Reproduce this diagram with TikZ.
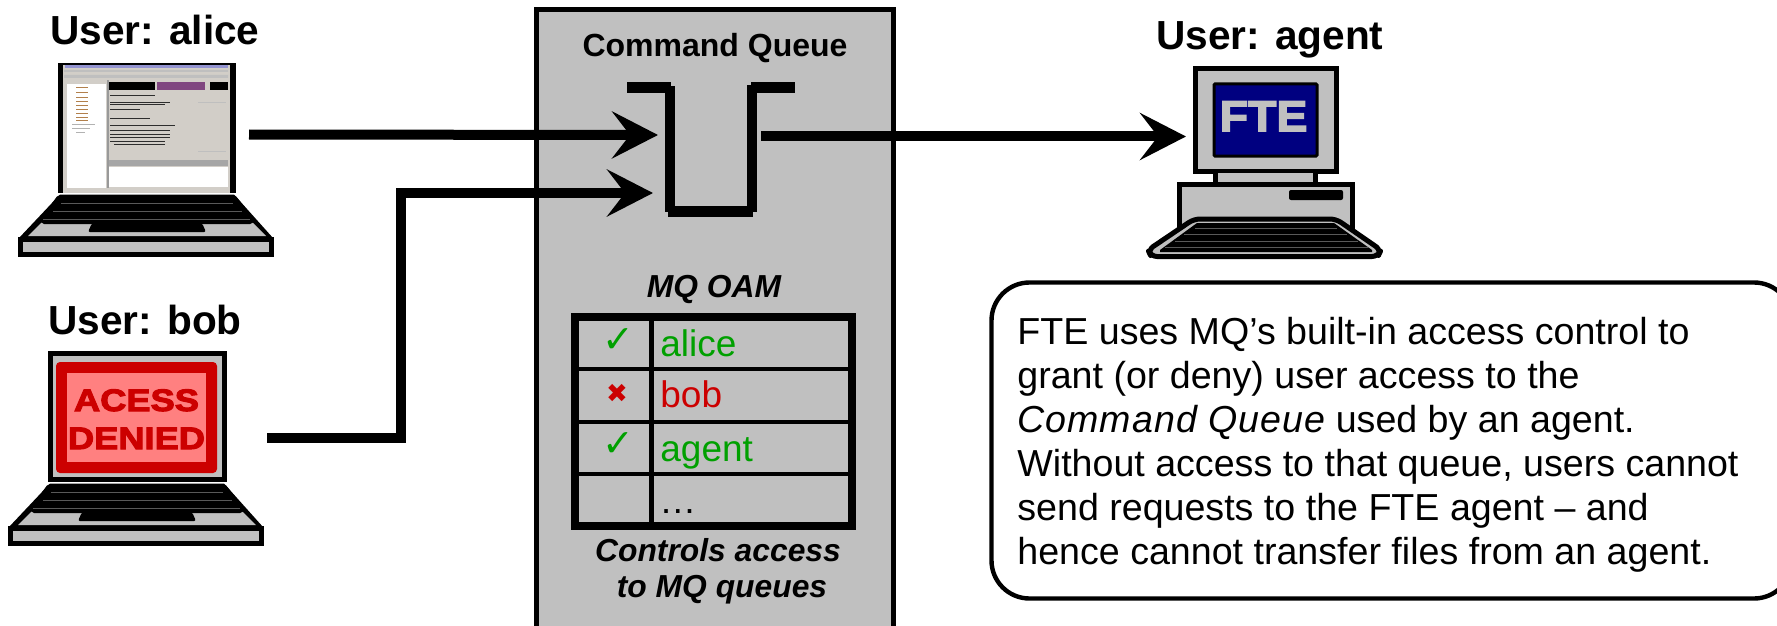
\documentclass[tikz,border=0pt]{standalone}
\usepackage{fontspec}
\setmainfont{Liberation Sans}
\newfontfamily\symfont{DejaVu Sans}
\newfontfamily\heavyfont[BoldFeatures={FakeBold=3.5,FakeStretch=1.17}]{Liberation Sans}
\newfontfamily\ftefont[BoldFeatures={FakeBold=3.5,FakeStretch=1.08}]{Liberation Sans}
\usetikzlibrary{arrows.meta}
\definecolor{boxgray}{HTML}{C0C0C0}
\definecolor{okgreen}{HTML}{00A000}
\definecolor{noared}{HTML}{CC0000}
\definecolor{pinkscr}{HTML}{FF8080}
\definecolor{navyscr}{HTML}{000080}
\definecolor{winbg}{HTML}{D2CEC8}
\newcommand{\fsz}[1]{\fontsize{#1}{#1}\selectfont}
\tikzset{
  x=0.5pt,y=-0.5pt,
  title/.style={font=\fsz{20.3}\bfseries,anchor=base west,inner sep=0},
  sublabel/.style={font=\fsz{16}\bfseries,anchor=base,inner sep=0},
  sublabelit/.style={font=\fsz{15.9}\bfseries\itshape,anchor=base,inner sep=0},
  entry/.style={font=\fsz{18.5},anchor=base west,inner sep=0},
  flow/.style={line width=5pt,line join=miter,
    -{Stealth[length=23pt,width=23.5pt,inset=9pt]}},
  hw/.style={line width=2.5pt,draw=black,fill=boxgray,line join=miter},
}
\newcommand{\laptopbase}{%
  \fill[black] (60,194.5) -- (234,194.5) -- (273,238) -- (19,238) -- cycle;
  \fill[boxgray] (28,236) -- (42,222) -- (252,222) -- (266,236) -- cycle;
  \fill[black,rounded corners=1pt] (58,195) -- (235,195) -- (255,220) -- (252,224) -- (42,224) -- (40,220) -- cycle;
  \fill[black,rounded corners=1pt] (92,223) -- (202,223) -- (206,232) -- (88,232) -- cycle;
  \draw[gray!70!black,line width=.3pt] (61,203) -- (233,203) (53,211) -- (242,211) (43,219) -- (250,219);
  \draw[hw] (20.5,239) rectangle (271.5,254.5);
}
\begin{document}
\begin{tikzpicture}
\useasboundingbox (0,0) rectangle (1777,626);
% central box
\draw[line width=2.5pt,fill=boxgray] (536.7,630) -- (536.7,9.5) -- (893,9.5) -- (893,630);
\node[sublabel] (cqlabel) at (715,57) {Command Queue};
% queue
\fill (627,82) rectangle (671,93);
\fill (665,86) rectangle (675,212);
\fill (668,206) rectangle (753,217);
\fill (747,85) rectangle (757,212);
\fill (751,82) rectangle (795,93);
\coordinate (qleft) at (658,135);
\coordinate (qleftb) at (653,193);
\coordinate (qright) at (761,136.5);
% titles
\node[title] (alicet) at (50,45) {User: alice};
\node[title] (bobt) at (48,334) {User: bob};
\node[title] (agentt) at (1156,50) {User: agent};
% laptop alice
\node[inner sep=0,minimum width=0] (alicelap) at (147,128) {};
\fill[black] (57.5,63) rectangle (236,192.5);
\fill[winbg] (63,65) rectangle (230,192.5);
\fill[white] (67,84) rectangle (106,188);
\fill[white] (109,167) rectangle (228,187);
\fill[gray!60!blue!60] (65,65.5) rectangle (228,68.5);
\fill[gray!50] (64,70) rectangle (228,72) (64,75) rectangle (228,78);
\fill[black] (109,82) rectangle (155,90);
\fill[violet!45!gray] (157,82) rectangle (205,90);
\fill[black] (210,82) rectangle (228,90);
\fill[gray!80] (107,80) rectangle (108.5,188);
\fill[gray!70] (109,160) rectangle (228,166);
\foreach \yy/\xa/\xb in {95/110/155,102/110/170,104/110/165,109/110/140,118/110/150,125/110/175,130/110/170,134/110/170,137/110/170,141/110/165,144/114/165}{
  \draw[gray!35!black,line width=.3pt] (\xa,\yy) -- (\xb,\yy);
}
\draw[gray!50,line width=.3pt] (198,102) -- (226,102) (198,151) -- (226,151);
\foreach \yy in {87,92,97,101,105,109,113,117,120}{
  \draw[orange!40!gray,line width=.4pt] (76,\yy) -- (88,\yy);
}
\draw[gray!60,line width=.4pt] (72,124) -- (95,124) (72,128) -- (90,128) (76,132) -- (85,132);
\begin{scope}
\laptopbase
\end{scope}
% laptop bob
\node[inner sep=0] (boblap) at (137,417) {};
\draw[line width=2.5pt,fill=boxgray] (50,353.5) rectangle (224.5,479);
\fill[noared,rounded corners=2pt] (56,362) rectangle (217,473);
\fill[pinkscr] (67,373) rectangle (206,462);
\node[inner sep=0,text=noared,font=\fsz{15.5}\heavyfont\bfseries,anchor=base] (acess) at (136.5,411) {ACESS};
\node[inner sep=0,text=noared,font=\fsz{15.5}\heavyfont\bfseries,anchor=base] (denied) at (136.5,449) {DENIED};
\begin{scope}[shift={(-10,289)}]
\laptopbase
\end{scope}
% flows
\coordinate (alicesrc) at (249,134.5);
\coordinate (bobsrc) at (267,437.5);
\coordinate (bobc1) at (401,437.5);
\coordinate (bobc2) at (401,193);
\draw[flow] (alicesrc) -- (qleft);
\draw[flow] (bobsrc) -- (bobc1) -- (bobc2) -- (qleftb);
\coordinate (pcin) at (1186,136.5);
\draw[flow] (qright) -- (pcin);
% PC
\draw[hw] (1195,69) rectangle (1336,171);
\draw[line width=1.5pt,fill=navyscr,rounded corners=.5pt] (1214,84) rectangle (1317,156);
\node[inner sep=0,text=boxgray,font=\fsz{21.5}\ftefont\bfseries,anchor=base] (fte) at (1263.5,131) {FTE};
\fill[boxgray] (1215,173) rectangle (1315,184);
\draw[line width=2.5pt] (1215,173) -- (1215,186) (1315,173) -- (1315,186);
\draw[hw] (1179,184) rectangle (1352,240);
\fill[rounded corners=1pt] (1289,190) rectangle (1343,200);
\draw[line width=2.5pt,line join=round,fill=boxgray,rounded corners=3pt] (1194,219) -- (1336,219) -- (1381,250) -- (1378,256.5) -- (1151,256.5) -- (1148,250) -- cycle;
\fill (1197,223) -- (1334,223) -- (1372,250) -- (1372,252) -- (1160,252) -- (1160,250) -- cycle;
\draw[gray!70!black,line width=.4pt] (1195,228) -- (1337,228) (1184,234) -- (1347,234) (1175,241) -- (1358,241) (1165,247) -- (1368,247);
% table
\draw[line width=4pt,fill=boxgray] (575,317) rectangle (852,526);
\draw[line width=2.2pt] (651.5,321) -- (651.5,522)
  (579,369) -- (848,369) (579,421.7) -- (848,421.7) (579,473.7) -- (848,473.7);
\node[entry,text=okgreen] (ealice) at (660,356) {alice};
\node[entry,text=noared] (ebob) at (660,407) {bob};
\node[entry,text=okgreen] (eagent) at (660,461) {agent};
\node[entry] (edots) at (659,513) {…};
\node[inner sep=0,text=okgreen,font=\fsz{19}\symfont,anchor=base] (c1) at (618,352) {✓};
\node[inner sep=0,text=noared,font=\fsz{13}\symfont,anchor=base] (c2) at (617,402) {✖};
\node[inner sep=0,text=okgreen,font=\fsz{19}\symfont,anchor=base] (c3) at (618,456) {✓};
\node[sublabelit] (oam) at (714,297) {MQ OAM};
\node[sublabelit] (ctl1) at (718,561) {Controls access};
\node[sublabelit] (ctl2) at (722,597) {to MQ queues};
% note
\draw[line width=2.2pt,rounded corners=19pt,fill=white] (991.5,282.5) rectangle (1792,598.5);
\node[inner sep=0,anchor=north west,align=left,font=\fontsize{18.8}{22}\selectfont] (note) at (1017,317) {%
FTE uses MQ’s built-in access control to\\
grant (or deny) user access to the\\
{\itshape\addfontfeature{LetterSpace=2.7}Command Queue} used by an agent.\\
Without access to that queue, users cannot\\
send requests to the FTE agent – and\\
hence cannot transfer files from an agent.};
\end{tikzpicture}
\end{document}
